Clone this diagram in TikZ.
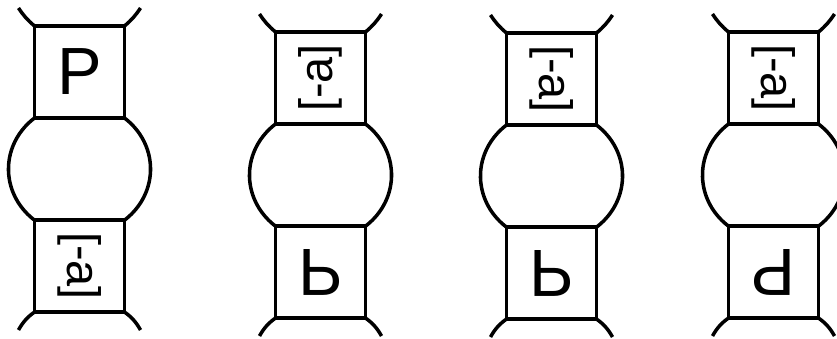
\documentclass[tikz,border=0pt]{standalone}
\usepackage{fontspec}
\setmainfont{Liberation Sans}
\usetikzlibrary{positioning}

% bulb between a top cell and the cell below it
\newcommand\bulb[1]{%
    \draw (#1.south west) arc[start angle=129.3, end angle=230.7, x radius=2.13cm, y radius=1.98cm];
    \draw (#1.south east) arc[start angle=50.7, end angle=-50.7, x radius=2.13cm, y radius=1.98cm];}
% short legs at the outer corners
\newcommand\legs[2]{%
    \draw (#1.north west) to[bend left=8] ++(-16,18);
    \draw (#1.north east) to[bend right=8] ++(16,18);
    \draw (#2.south west) to[bend right=12] ++(-16,-18);
    \draw (#2.south east) to[bend left=12] ++(16,-18);}

\begin{document}
\begin{tikzpicture}[x=0.03cm, y=0.03cm, line width=3pt,
    cell/.style={draw, minimum width=2.7cm, minimum height=2.76cm, inner sep=0pt, outer sep=0pt},
    big/.style={font=\fontsize{57}{57}\selectfont},
    tag/.style={font=\fontsize{40}{40}\selectfont}]
    \useasboundingbox (0,0) rectangle (837,339);

    % Cells
    \node[cell, big] (top1) at (79.5,267) {P};
    \node[cell, tag, below=3.06cm of top1] (bot1) {\rotatebox{-90}{[-a]}};
    \node[cell, tag] (top2) at (320.5,261) {\rotatebox{90}{[-a]}};
    \node[cell, big, below=3.06cm of top2] (bot2) {\scalebox{1}[-1]{P}};
    \node[cell, tag] (top3) at (551.5,260) {\rotatebox{-90}{[-a]}};
    \node[cell, big, below=3.06cm of top3] (bot3) {\scalebox{1}[-1]{P}};
    \node[cell, tag] (top4) at (773.5,261) {\rotatebox{-90}{[-a]}};
    \node[cell, big, below=3.06cm of top4] (bot4) {\rotatebox{180}{P}};

    % Bulbs and legs
    \foreach \i in {1,...,4} {
        \bulb{top\i}
        \legs{top\i}{bot\i}
    }
\end{tikzpicture}
\end{document}
